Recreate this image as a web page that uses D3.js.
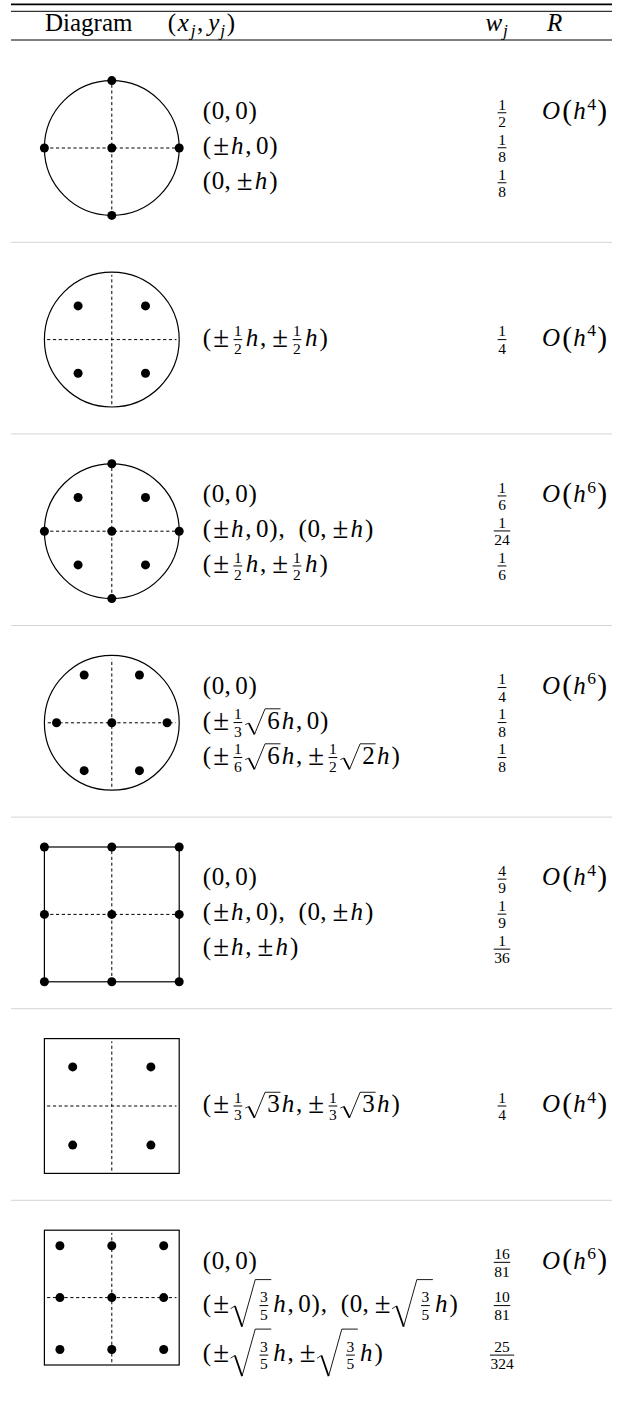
<!DOCTYPE html>
<html>
<head>
<meta charset="utf-8">
<script src="https://cdn.jsdelivr.net/npm/d3@7"></script>
<style>
  body { margin: 0; background: #fff; }
  svg text { font-family: "Liberation Serif", "DejaVu Serif", serif; }
</style>
</head>
<body>
<div id="chart"></div>
<script>
const width = 623;
const height = 1406;
const FS = 25;

// column headers
const headers = ["Diagram", "(x_j,y_j)", "w_j", "R"];

// one entry per table row
const shapes = ["circle", "circle", "circle", "circle", "square", "square", "square"];
const nodes = [
  [[0, 0], [1, 0], [-1, 0], [0, 1], [0, -1]],
  [[0.5, 0.5], [-0.5, 0.5], [0.5, -0.5], [-0.5, -0.5]],
  [[0, 0], [1, 0], [-1, 0], [0, 1], [0, -1], [0.5, 0.5], [-0.5, 0.5], [0.5, -0.5], [-0.5, -0.5]],
  [[0, 0], [0.82, 0], [-0.82, 0], [0.41, 0.71], [-0.41, 0.71], [0.41, -0.71], [-0.41, -0.71]],
  [[0, 0], [1, 0], [-1, 0], [0, 1], [0, -1], [1, 1], [-1, 1], [1, -1], [-1, -1]],
  [[0.58, 0.58], [-0.58, 0.58], [0.58, -0.58], [-0.58, -0.58]],
  [[0, 0], [0.77, 0], [-0.77, 0], [0, 0.77], [0, -0.77], [0.77, 0.77], [-0.77, 0.77], [0.77, -0.77], [-0.77, -0.77]]
];
const crossExtent = [1, 0.96, 1, 0.95, 1, 0.96, 0.96];
const abscissae = [
  ["(0,0)", "(±h,0)", "(0,±h)"],
  ["(±{1/2}h,±{1/2}h)"],
  ["(0,0)", "(±h,0), (0,±h)", "(±{1/2}h,±{1/2}h)"],
  ["(0,0)", "(±{1/3}√6h,0)", "(±{1/6}√6h,±{1/2}√2h)"],
  ["(0,0)", "(±h,0), (0,±h)", "(±h,±h)"],
  ["(±{1/3}√3h,±{1/3}√3h)"],
  ["(0,0)", "(±√{3/5}h,0), (0,±√{3/5}h)", "(±√{3/5}h,±√{3/5}h)"]
];
const weights = [
  ["1/2", "1/8", "1/8"],
  ["1/4"],
  ["1/6", "1/24", "1/6"],
  ["1/4", "1/8", "1/8"],
  ["4/9", "1/9", "1/36"],
  ["1/4"],
  ["16/81", "10/81", "25/324"]
];
const orders = [4, 4, 6, 6, 4, 4, 6];

const svg = d3.select("#chart").append("svg")
  .attr("width", width)
  .attr("height", height)
  .attr("fill", "#000");

const rowY = d3.scaleLinear().domain([0, 6]).range([148, 1297.6]);
const xUnit = d3.scaleLinear().domain([-1, 1]).range([44.4, 179.2]);
const R_UNIT = 67.4;

const textX = 202, weightX = 502, orderRight = 607;
const strutH = 0.98 * FS, strutD = 0.42 * FS;

// extra advance (em) so the serif font spaces like the TeX original
const widenRm = { "(": 0.056, ")": 0.056, "±": 0.12, ",": 0.028 };
const widenIt = { h: 0.076, x: 0.12, y: 0.05, w: 0.05, O: 0.04, R: 0.12 };

// --- tiny math typesetter ---
function parse(str) {
  const toks = [];
  let i = 0;
  while (i < str.length) {
    const c = str[i];
    if (c === "{") {
      const j = str.indexOf("}", i);
      const [n, d] = str.slice(i + 1, j).split("/");
      toks.push({ type: "frac", n, d }); i = j + 1;
    } else if (c === "√") {
      if (str[i + 1] === "{") {
        const j = str.indexOf("}", i);
        const [n, d] = str.slice(i + 2, j).split("/");
        toks.push({ type: "sqrtfrac", n, d }); i = j + 1;
      } else { toks.push({ type: "sqrt", s: str[i + 1] }); i += 2; }
    } else if (c === "_" || c === "^") {
      toks.push({ type: c === "_" ? "sub" : "sup", s: str[i + 1] }); i += 2;
    } else if (/[a-zA-Z]/.test(c)) {
      toks.push({ type: "it", s: c }); i++;
    } else if (c === ",") {
      toks.push({ type: "rm", s: "," });
      if (str[i + 1] === " ") { toks.push({ type: "space", w: 0.5 }); i += 2; }
      else { toks.push({ type: "space", w: 0.167 }); i++; }
    } else { toks.push({ type: "rm", s: c }); i++; }
  }
  return toks;
}

function txt(g, x, y, s, fs, italic) {
  const el = g.append("text").attr("x", x).attr("y", y).attr("font-size", fs)
    .attr("font-style", italic ? "italic" : null).text(s);
  return el.node().getComputedTextLength();
}

function rm(g, x, y, s, fs) {
  const ex = (widenRm[s] || 0) * fs;
  // the TeX plus-minus is a larger glyph
  if (s === "±") return txt(g, x + ex / 2, y + 0.04 * fs, s, 1.15 * fs) + ex;
  return txt(g, x + ex / 2, y, s, fs) + ex;
}

function it(g, x, y, s, fs) {
  const ex = (widenIt[s] || 0) * fs;
  return txt(g, x + ex * 0.3, y, s, fs, true) + ex;
}

// numerator and denominator share one text element
function frac(g, x, y, n, d, fs) {
  const s = 0.62 * fs;
  const tmp = g.append("g");
  const wn = txt(tmp, 0, 0, n, s), wd = txt(tmp, 0, 0, d, s);
  tmp.remove();
  const w = Math.max(wn, wd) + 0.04 * fs, x0 = x + 0.12 * fs;
  const t = g.append("text").attr("font-size", s);
  t.append("tspan").attr("x", x0 + (w - wn) / 2).attr("y", y - 0.38 * fs).text(n);
  t.append("tspan").attr("x", x0 + (w - wd) / 2).attr("y", y + 0.32 * fs).text(d);
  g.append("line").attr("x1", x0).attr("x2", x0 + w)
    .attr("y1", y - 0.25 * fs).attr("y2", y - 0.25 * fs)
    .attr("stroke", "#000").attr("stroke-width", 1);
  return w + 0.24 * fs;
}

function radical(g, x, top, bot, rw, w) {
  const H = bot - top;
  const p1 = [x + 0.16 * rw, top + 0.56 * H];
  const p2 = [x + 0.42 * rw, bot];
  const p3 = [x + 0.9 * rw, top];
  g.append("path")
    .attr("d", `M${x},${top + 0.62 * H}L${p1}`)
    .attr("fill", "none").attr("stroke", "#000").attr("stroke-width", 0.8);
  g.append("path")
    .attr("d", `M${p1}L${p2}`)
    .attr("fill", "none").attr("stroke", "#000").attr("stroke-width", 1.8);
  g.append("path")
    .attr("d", `M${p2}L${p3}H${x + rw + w}`)
    .attr("fill", "none").attr("stroke", "#000").attr("stroke-width", 0.9);
}

const SQ_TOP = 1.29, SQ_BOT = 0.59;

function typeset(g, x, y, str, fs) {
  let cx = x, h = 0.7 * fs, d = 0.25 * fs;
  for (const t of parse(str)) {
    if (t.type === "rm") {
      cx += rm(g, cx, y, t.s, fs);
    } else if (t.type === "it") {
      cx += it(g, cx, y, t.s, fs);
    } else if (t.type === "space") {
      cx += t.w * fs;
    } else if (t.type === "sub" || t.type === "sup") {
      const dy = t.type === "sub" ? 0.2 * fs : -0.38 * fs;
      cx += txt(g, cx, y + dy, t.s, 0.7 * fs, /[a-z]/.test(t.s)) + 0.04 * fs;
    } else if (t.type === "frac") {
      cx += frac(g, cx, y, t.n, t.d, fs);
    } else if (t.type === "sqrt") {
      const rw = 0.88 * fs;
      const w = txt(g, cx + rw, y, t.s, fs);
      radical(g, cx, y - 0.8 * fs, y + 0.22 * fs, rw, w + 0.03 * fs);
      cx += rw + w + 0.06 * fs;
    } else if (t.type === "sqrtfrac") {
      const rw = 1.1 * fs;
      const w = frac(g, cx + rw - 0.06 * fs, y, t.n, t.d, fs) - 0.06 * fs;
      radical(g, cx, y - SQ_TOP * fs, y + SQ_BOT * fs, rw, w);
      cx += rw + w + 0.06 * fs;
      h = Math.max(h, (SQ_TOP + 0.02) * fs);
      d = Math.max(d, (SQ_BOT + 0.08) * fs);
    }
  }
  return { w: cx - x, h, d };
}

function bigO(g, right, y, k, fs) {
  const og = g.append("g");
  let cx = 0;
  cx += it(og, cx, y, "O", fs) + 0.06 * fs;
  const ps = 1.18 * fs, py = y + 0.03 * fs;
  cx += txt(og, cx, py, "(", ps) + 0.03 * fs;
  cx += it(og, cx, y, "h", fs);
  cx += txt(og, cx, y - 0.38 * fs, String(k), 0.7 * fs) + 0.05 * fs;
  cx += txt(og, cx, py, ")", ps);
  og.attr("transform", `translate(${right - cx},0)`);
}

// --- rules ---
const rules = svg.append("g").attr("stroke", "#000");
rules.append("line").attr("x1", 11).attr("x2", 612).attr("y1", 4.3).attr("y2", 4.3).attr("stroke-width", 1.7);
rules.append("line").attr("x1", 11).attr("x2", 612).attr("y1", 11.3).attr("y2", 11.3).attr("stroke-width", 1);
rules.append("line").attr("x1", 11).attr("x2", 612).attr("y1", 40).attr("y2", 40).attr("stroke-width", 1);

svg.append("g").selectAll("line")
  .data(d3.range(6))
  .join("line")
  .attr("x1", 11).attr("x2", 612)
  .attr("y1", i => rowY(i) + 94.3).attr("y2", i => rowY(i) + 94.3)
  .attr("stroke", "#d4d4d4").attr("stroke-width", 1);

// --- header ---
const head = svg.append("g");
txt(head, 45, 30.7, headers[0], FS);
typeset(head, 167, 30.7, headers[1], FS);
typeset(head, 485, 30.7, headers[2], FS);
typeset(head, 546, 30.7, headers[3], FS);

// --- diagrams ---
shapes.forEach((shape, i) => {
  const c = rowY(i);
  const yUnit = d3.scaleLinear().domain([-1, 1]).range([c + R_UNIT, c - R_UNIT]);
  const g = svg.append("g");
  if (shape === "circle") {
    g.append("circle").attr("cx", xUnit(0)).attr("cy", yUnit(0)).attr("r", R_UNIT)
      .attr("fill", "none").attr("stroke", "#000").attr("stroke-width", 1.2);
  } else {
    g.append("rect").attr("x", xUnit(-1)).attr("y", yUnit(1))
      .attr("width", xUnit(1) - xUnit(-1)).attr("height", yUnit(-1) - yUnit(1))
      .attr("fill", "none").attr("stroke", "#000").attr("stroke-width", 1.2);
  }
  const e = crossExtent[i];
  g.append("line").attr("x1", xUnit(-e)).attr("x2", xUnit(e)).attr("y1", yUnit(0)).attr("y2", yUnit(0))
    .attr("stroke", "#000").attr("stroke-width", 1).attr("stroke-dasharray", "3.2,2.6");
  g.append("line").attr("x1", xUnit(0)).attr("x2", xUnit(0)).attr("y1", yUnit(-e)).attr("y2", yUnit(e))
    .attr("stroke", "#000").attr("stroke-width", 1).attr("stroke-dasharray", "3.2,2.6");
  g.selectAll("circle.node")
    .data(nodes[i])
    .join("circle")
    .attr("class", "node")
    .attr("cx", d => xUnit(d[0]))
    .attr("cy", d => yUnit(d[1]))
    .attr("r", 4.5)
    .attr("fill", "#000");
});

// --- text columns ---
abscissae.forEach((lines, i) => {
  const c = rowY(i);
  const g = svg.append("g");
  const boxes = lines.map(s => {
    const lg = g.append("g");
    return Object.assign({ lg }, typeset(lg, 0, 0, s, FS));
  });
  const ys = [0];
  for (let k = 1; k < boxes.length; k++) {
    ys[k] = ys[k - 1] + Math.max(strutD, boxes[k - 1].d) + Math.max(strutH, boxes[k].h);
  }
  // multi-line blocks hang from the top, single lines sit on the axis
  const off = boxes.length > 1 ? c - 29 : c + 0.25 * FS;
  boxes.forEach((b, k) => b.lg.attr("transform", `translate(${textX},${ys[k] + off})`));

  weights[i].forEach((wt, k) => {
    const wg = g.append("g");
    const [n, d] = wt.split("/");
    const w = frac(wg, 0, 0, n, d, FS);
    wg.attr("transform", `translate(${weightX - w / 2},${ys[k] + off})`);
  });
  bigO(g, orderRight, ys[0] + off, orders[i], FS);
});
</script>
</body>
</html>
